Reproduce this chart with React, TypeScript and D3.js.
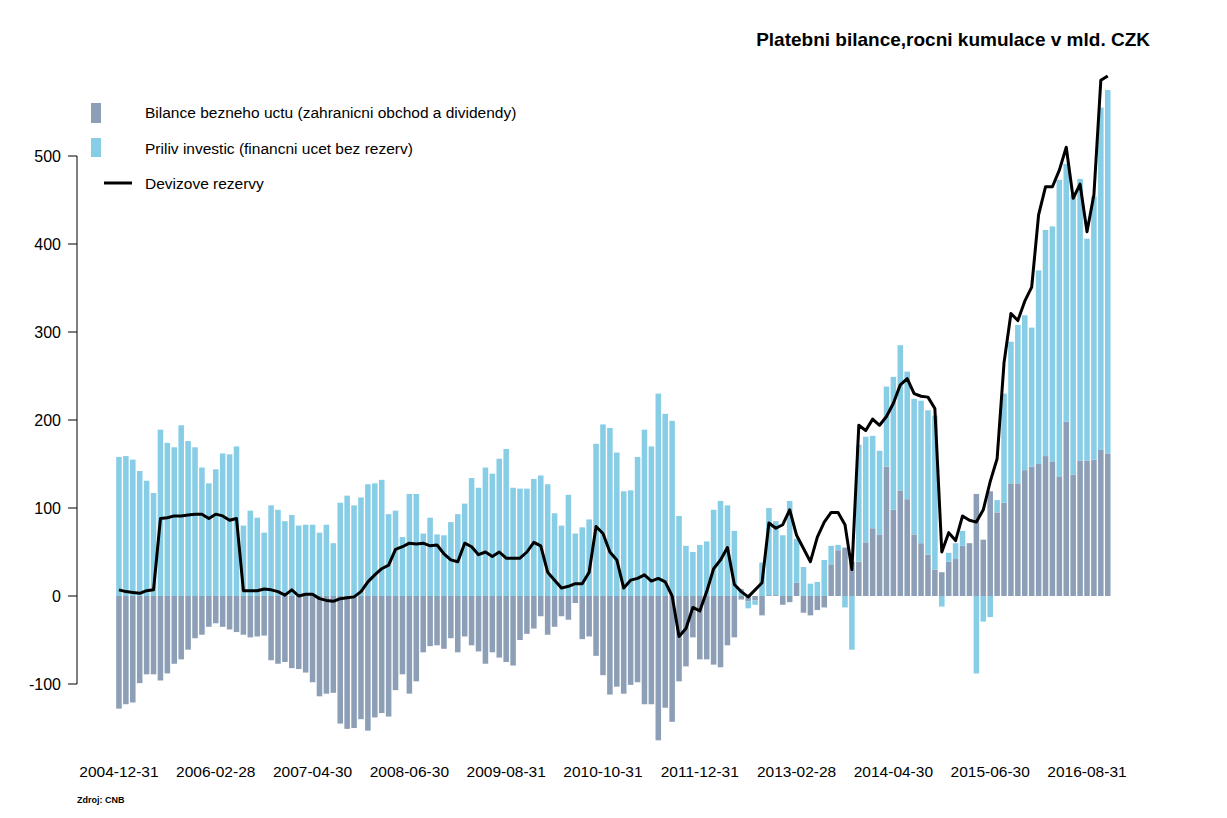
import React from "react";
import * as d3 from "d3";

// Bilance bezneho uctu (current account), mld. CZK, monthly Dec 2004 .. Nov 2016
const currentAccount: number[] = [
  -128, -123, -121, -99, -89, -89, -96, -88, -77, -72, -61, -48,
  -44, -35, -31, -35, -38, -41, -44, -47, -46, -45, -73, -77,
  -75, -82, -83, -87, -98, -114, -111, -110, -145, -151, -150, -140,
  -153, -138, -133, -137, -107, -89, -111, -97, -64, -57, -56, -60,
  -48, -64, -46, -56, -63, -77, -64, -70, -75, -79, -50, -43,
  -37, -23, -44, -35, -23, -27, -8, -49, -46, -68, -90, -112,
  -103, -111, -101, -98, -123, -123, -164, -127, -143, -97, -80, -47,
  -72, -72, -78, -81, -56, -47, -4, -6, -5, -22, 1, 1,
  -10, -7, 15, -19, -22, -16, -13, 36, 52, 55, 39, 39,
  61, 77, 70, 147, 98, 120, 110, 70, 60, 47, 30, 27,
  39, 42, 57, 60, 116, 64, 119, 95, 106, 128, 128, 143,
  147, 150, 159, 153, 136, 198, 138, 154, 154, 155, 166, 162,
];

// Priliv investic (financial account excl. reserves)
const investmentInflow: number[] = [
  158, 159, 155, 142, 131, 117, 189, 174, 169, 194, 176, 169,
  146, 128, 144, 162, 161, 170, 80, 97, 89, 72, 103, 98,
  85, 92, 80, 81, 81, 72, 81, 60, 106, 114, 103, 112,
  127, 128, 132, 93, 97, 67, 116, 116, 71, 89, 70, 69,
  84, 93, 105, 134, 123, 146, 139, 156, 167, 123, 122, 122,
  133, 137, 127, 94, 80, 115, 71, 78, 87, 173, 195, 191,
  163, 119, 120, 158, 189, 170, 230, 207, 199, 91, 57, 50,
  58, 62, 98, 108, 103, 74, 8, -8, -5, 38, 99, 84,
  69, 108, 50, 33, 14, 16, 41, 21, 6, -13, -61, 133,
  120, 105, 95, 91, 151, 165, 145, 154, 162, 164, 175, -12,
  10, 18, 17, 0, -88, -29, -24, 14, 124, 161, 180, 176,
  158, 220, 257, 267, 337, 293, 318, 320, 252, 299, 389, 413,
];

// Devizove rezervy (FX reserves)
const fxReserves: number[] = [
  7, 5, 4, 3, 6, 7, 88, 89, 91, 91, 92, 93,
  93, 88, 93, 91, 86, 88, 6, 6, 6, 8, 7, 5,
  1, 7, 0, 2, 2, -3, -5, -6, -3, -2, -1, 5,
  16, 24, 31, 35, 53, 56, 60, 59, 60, 57, 58, 48,
  41, 39, 60, 56, 47, 50, 45, 50, 43, 43, 43, 50,
  61, 57, 27, 18, 9, 11, 14, 14, 27, 79, 71, 50,
  41, 9, 18, 20, 24, 17, 20, 16, 0, -46, -37, -13,
  -17, 5, 31, 41, 55, 13, 5, -1, 7, 15, 83, 77,
  81, 98, 69, 54, 39, 67, 84, 95, 95, 81, 30, 194,
  188, 201, 194, 204, 219, 240, 247, 230, 227, 226, 213, 50,
  72, 63, 91, 86, 84, 98, 130, 156, 265, 321, 313, 335,
  351, 433, 465, 465, 484, 510, 452, 468, 414, 456, 586, 591,
];

const yTicks: number[] = [-100, 0, 100, 200, 300, 400, 500];
const seriesNames: string[] = [
  "Bilance bezneho uctu (zahranicni obchod a dividendy)",
  "Priliv investic (financni ucet bez rezerv)",
  "Devizove rezervy",
];
const titleText = "Platebni bilance,rocni kumulace v mld. CZK";
const sourceText = "Zdroj: CNB";
const labelEvery = 14;

const COL_CA = "#8c9fb7";
const COL_FA = "#87cde6";
const FONT = "'Liberation Sans', Arial, sans-serif";

export default function App() {
  const W = 1227;
  const H = 818;
  const months = d3.timeMonth.range(new Date(2004, 11, 1), new Date(2016, 11, 1));
  const monthEnds = months.map((m) => d3.timeDay.offset(d3.timeMonth.offset(m, 1), -1));
  const fmt = d3.timeFormat("%Y-%m-%d");
  const cats = monthEnds.map((d) => fmt(d));

  const x = d3
    .scaleBand<string>()
    .domain(cats)
    .range([115.5, 1111.2])
    .paddingInner(0.2)
    .paddingOuter(0.1);
  const y = d3.scaleLinear().domain([-100, 500]).range([684, 156]);

  const rows = cats.map((c, i) => ({ cat: c, ca: currentAccount[i], fa: investmentInflow[i] }));
  const stacked = d3
    .stack<any>()
    .keys(["ca", "fa"])
    .offset(d3.stackOffsetDiverging)(rows);
  const colors = [COL_CA, COL_FA];

  const cx = (i: number) => (x(cats[i]) as number) + x.bandwidth() / 2;
  const line = d3
    .line<number>()
    .x((_, i) => cx(i))
    .y((v) => y(v));

  return (
    <svg width={W} height={H} style={{ display: "block", position: "absolute", left: 0, top: 0 }}>
      <rect width={W} height={H} fill="#ffffff" />
      <text x={1150} y={46} textAnchor="end" fontFamily={FONT} fontWeight="bold" fontSize={19} fill="#000">
        {titleText}
      </text>

      {/* bars */}
      {stacked.map((s, si) => (
        <g key={si} fill={colors[si]}>
          {s.map((d, i) => {
            const y0 = y(d[0]);
            const y1 = y(d[1]);
            const top = Math.min(y0, y1);
            const h = Math.abs(y1 - y0);
            if (h < 0.01) return null;
            return <rect key={i} x={x(cats[i])} y={top} width={x.bandwidth()} height={h} />;
          })}
        </g>
      ))}

      {/* line */}
      <path d={line(fxReserves) || ""} fill="none" stroke="#000" strokeWidth={3} strokeLinejoin="round" />

      {/* y axis */}
      <line x1={77} x2={77} y1={y(-100)} y2={y(500)} stroke="#000" strokeWidth={1} />
      {yTicks.map((t) => (
        <g key={t}>
          <line x1={68} x2={77} y1={y(t)} y2={y(t)} stroke="#000" strokeWidth={1} />
          <text x={61} y={y(t)} dy="0.35em" textAnchor="end" fontFamily={FONT} fontSize={16} fill="#000">
            {t}
          </text>
        </g>
      ))}

      {/* x labels */}
      {cats.map((c, i) =>
        i % labelEvery === 0 ? (
          <text key={c} x={cx(i)} y={777} textAnchor="middle" fontFamily={FONT} fontSize={15.5} fill="#000">
            {c}
          </text>
        ) : null
      )}

      {/* legend */}
      <rect x={91} y={103} width={10} height={20} fill={COL_CA} />
      <text x={145} y={113} dy="0.35em" fontFamily={FONT} fontSize={15.5} fill="#000">
        {seriesNames[0]}
      </text>
      <rect x={91} y={138} width={10} height={19} fill={COL_FA} />
      <text x={145} y={149} dy="0.35em" fontFamily={FONT} fontSize={15.5} fill="#000">
        {seriesNames[1]}
      </text>
      <line x1={104} x2={132} y1={183} y2={183} stroke="#000" strokeWidth={3} />
      <text x={145} y={184} dy="0.35em" fontFamily={FONT} fontSize={15.5} fill="#000">
        {seriesNames[2]}
      </text>

      <text x={77} y={803} fontFamily={FONT} fontWeight="bold" fontSize={9} fill="#000">
        {sourceText}
      </text>
    </svg>
  );
}
